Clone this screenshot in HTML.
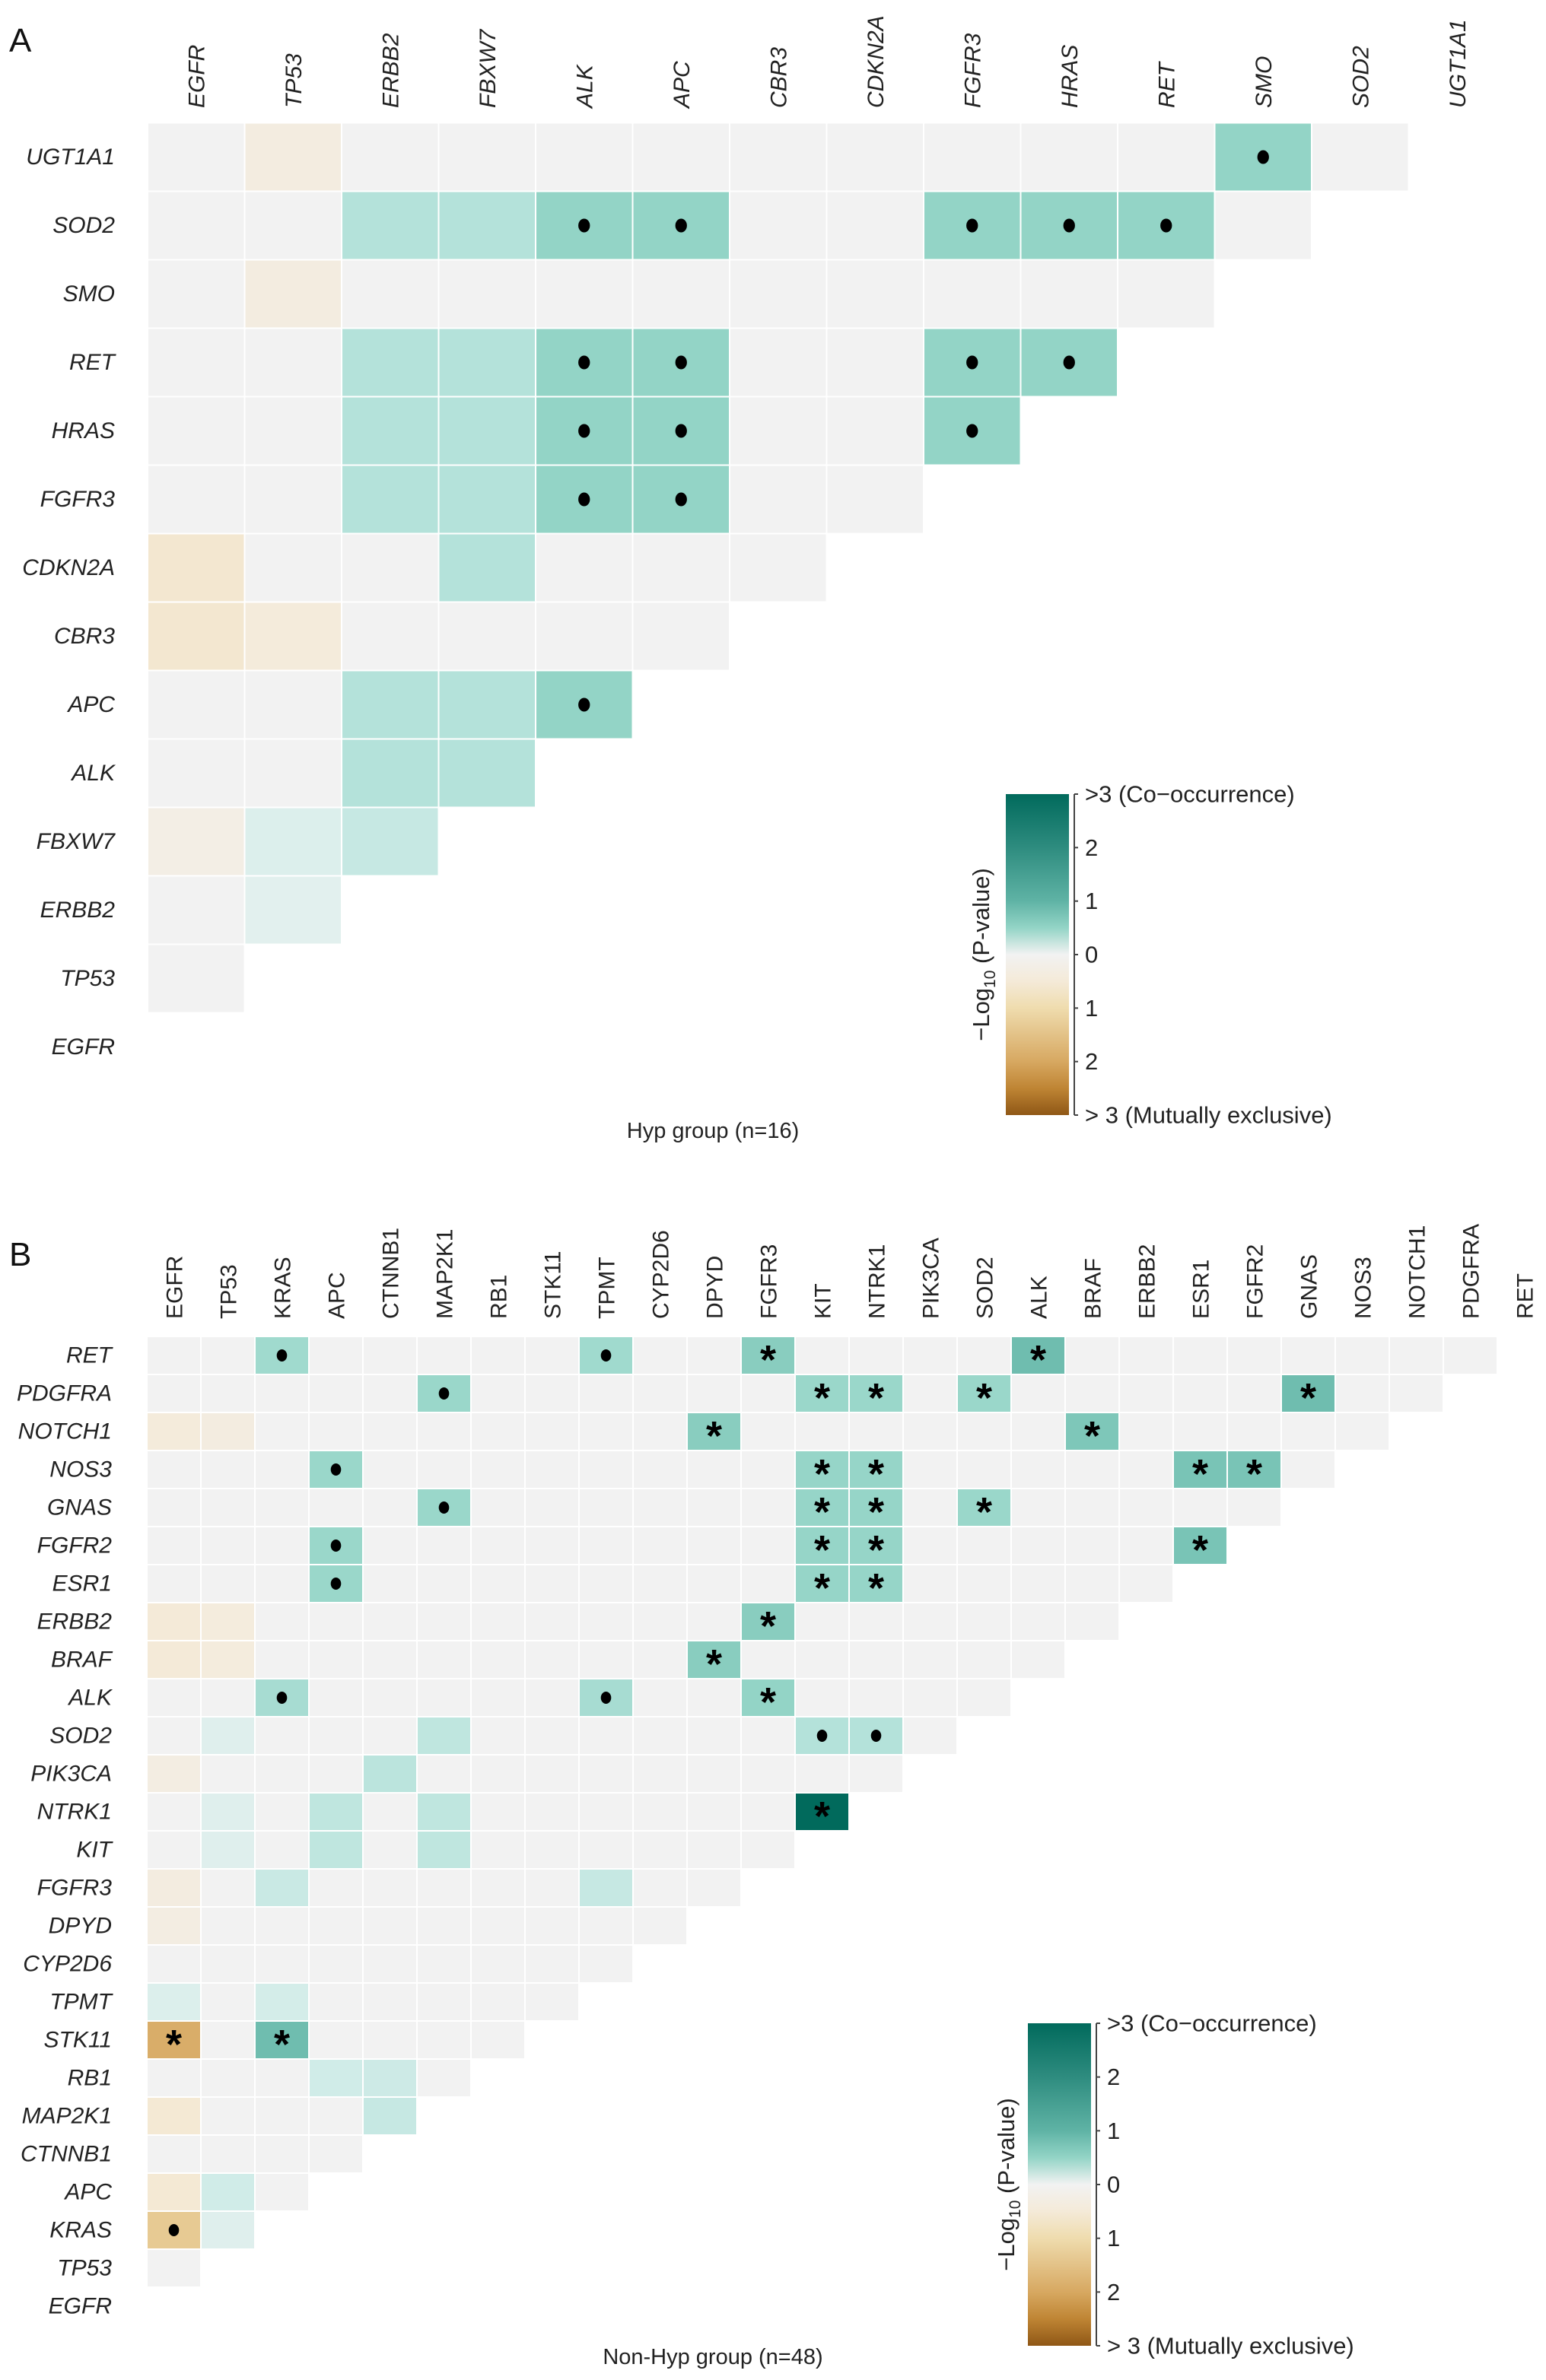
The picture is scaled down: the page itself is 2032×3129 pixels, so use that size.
<!DOCTYPE html>
<html><head><meta charset="utf-8"><style>
html,body{margin:0;padding:0;background:#fff;}
svg{display:block;font-family:"Liberation Sans",Arial,sans-serif;}
</style></head><body>
<svg id="fig" width="2032" height="3129" viewBox="0 0 2032 3129" xmlns="http://www.w3.org/2000/svg">
<defs>
<linearGradient id="cbgrad" x1="0" y1="0" x2="0" y2="1">
<stop offset="0" stop-color="#016a5c"/><stop offset="0.1667" stop-color="#2e8c7f"/><stop offset="0.3333" stop-color="#5fb3a5"/><stop offset="0.4167" stop-color="#93d4c6"/><stop offset="0.5" stop-color="#f2f2f2"/><stop offset="0.5833" stop-color="#f4ead8"/><stop offset="0.6667" stop-color="#efdcae"/><stop offset="0.8333" stop-color="#d7a861"/><stop offset="0.9167" stop-color="#bf8534"/><stop offset="1" stop-color="#8f5716"/>
</linearGradient>
</defs>
<g id="panelA"></g>
<g id="panelB"></g>
</svg>
<script>
// ---------- Panel A data ----------
const aGenes = ["EGFR","TP53","ERBB2","FBXW7","ALK","APC","CBR3","CDKN2A","FGFR3","HRAS","RET","SMO","SOD2","UGT1A1"];
const aCellRow = ["UGT1A1","UGT1A1","SOD2","SOD2","SOD2","SOD2","SOD2","SOD2","SOD2","SMO","RET","RET","RET","RET","RET","RET","HRAS","HRAS","HRAS","HRAS","HRAS","FGFR3","FGFR3","FGFR3","FGFR3","CDKN2A","CDKN2A","CBR3","CBR3","APC","APC","APC","ALK","ALK","FBXW7","FBXW7","FBXW7","ERBB2"];
const aCellCol = ["TP53","SMO","ERBB2","FBXW7","ALK","APC","FGFR3","HRAS","RET","TP53","ERBB2","FBXW7","ALK","APC","FGFR3","HRAS","ERBB2","FBXW7","ALK","APC","FGFR3","ERBB2","FBXW7","ALK","APC","EGFR","FBXW7","EGFR","TP53","ERBB2","FBXW7","ALK","ERBB2","FBXW7","EGFR","TP53","ERBB2","TP53"];
const aCellVal = [-0.35,1.5,1.0,1.0,1.5,1.5,1.5,1.5,1.5,-0.35,1.0,1.0,1.5,1.5,1.5,1.5,1.0,1.0,1.5,1.5,1.5,1.0,1.0,1.5,1.5,-0.6,1.0,-0.6,-0.45,1.0,1.0,1.5,1.0,1.0,-0.25,0.4,0.75,0.3];
const aCellMark = ["","dot","","","dot","dot","dot","dot","dot","","","","dot","dot","dot","dot","","","dot","dot","dot","","","dot","dot","","","","","","","dot","","","","","",""];
// ---------- Panel B data ----------
const bGenes = ["EGFR","TP53","KRAS","APC","CTNNB1","MAP2K1","RB1","STK11","TPMT","CYP2D6","DPYD","FGFR3","KIT","NTRK1","PIK3CA","SOD2","ALK","BRAF","ERBB2","ESR1","FGFR2","GNAS","NOS3","NOTCH1","PDGFRA","RET"];
const bCellRow = ["RET","RET","RET","RET","PDGFRA","PDGFRA","PDGFRA","PDGFRA","PDGFRA","NOTCH1","NOTCH1","NOTCH1","NOTCH1","NOS3","NOS3","NOS3","NOS3","NOS3","GNAS","GNAS","GNAS","GNAS","FGFR2","FGFR2","FGFR2","FGFR2","ESR1","ESR1","ESR1","ERBB2","ERBB2","ERBB2","BRAF","BRAF","BRAF","ALK","ALK","ALK","SOD2","SOD2","SOD2","SOD2","PIK3CA","PIK3CA","NTRK1","NTRK1","NTRK1","NTRK1","KIT","KIT","KIT","FGFR3","FGFR3","FGFR3","DPYD","TPMT","TPMT","STK11","STK11","RB1","RB1","MAP2K1","MAP2K1","APC","APC","KRAS","KRAS"];
const bCellCol = ["KRAS","TPMT","FGFR3","ALK","MAP2K1","KIT","NTRK1","SOD2","GNAS","EGFR","TP53","DPYD","BRAF","APC","KIT","NTRK1","ESR1","FGFR2","MAP2K1","KIT","NTRK1","SOD2","APC","KIT","NTRK1","ESR1","APC","KIT","NTRK1","EGFR","TP53","FGFR3","EGFR","TP53","DPYD","KRAS","TPMT","FGFR3","TP53","MAP2K1","KIT","NTRK1","EGFR","CTNNB1","TP53","APC","MAP2K1","KIT","TP53","APC","MAP2K1","EGFR","KRAS","TPMT","EGFR","EGFR","KRAS","EGFR","KRAS","APC","CTNNB1","EGFR","CTNNB1","EGFR","TP53","EGFR","TP53"];
const bCellVal = [1.3,1.3,1.6,1.85,1.4,1.4,1.4,1.4,1.85,-0.45,-0.35,1.6,1.7,1.4,1.45,1.45,1.75,1.75,1.4,1.45,1.45,1.4,1.4,1.45,1.45,1.75,1.4,1.45,1.45,-0.5,-0.4,1.6,-0.5,-0.4,1.6,1.2,1.2,1.5,0.35,0.85,1.0,1.0,-0.3,0.9,0.35,0.85,0.85,3.0,0.35,0.85,0.85,-0.35,0.7,0.75,-0.3,0.4,0.55,-1.9,1.85,0.6,0.65,-0.55,0.75,-0.55,0.6,-1.35,0.35];
const bCellMark = ["dot","dot","star","star","dot","star","star","star","star","","","star","star","dot","star","star","star","star","dot","star","star","star","dot","star","star","star","dot","star","star","","","star","","","star","dot","dot","star","","","dot","dot","","","","","","star","","","","","","","","","","star","star","","","","","","","dot",""];
// ---------- Colorbar ticks ----------
const cbTickVals = [3,2,1,0,-1,-2,-3];
const cbTickLabels = [">3 (Co\u2212occurrence)","2","1","0","1","2","> 3 (Mutually exclusive)"];

const NS = "http://www.w3.org/2000/svg";
function mk(tag, attrs, parent){const e=document.createElementNS(NS,tag);for(const k in attrs)e.setAttribute(k,attrs[k]);parent.appendChild(e);return e;}
const stops=[[-3,[143,87,22]],[-2.5,[191,133,52]],[-2,[215,168,97]],[-1,[239,220,174]],[-0.5,[244,234,216]],[0,[242,242,242]],[0.5,[215,238,235]],[1,[180,226,218]],[1.5,[147,212,198]],[2,[95,179,165]],[2.5,[46,140,127]],[3,[1,106,92]]];
function color(v){v=Math.max(-3,Math.min(3,v));for(let i=0;i<stops.length-1;i++){const a=stops[i],b=stops[i+1];if(v>=a[0]&&v<=b[0]){const t=(v-a[0])/(b[0]-a[0]);const c=a[1].map((x,k)=>Math.round(x+(b[1][k]-x)*t));return "rgb("+c.join(",")+")";}}return "#f2f2f2";}

function drawPanel(g, genes, rows, cols, vals, marks, geo){
  const n=genes.length;
  const xScale=i=>geo.x0+i*geo.cw;
  const yScale=r=>geo.y0+r*geo.rh;
  genes.forEach((gn,i)=>{
    const cx=xScale(i)+geo.cw/2+geo.fs*0.36;
    const t=mk("text",{x:cx,y:geo.colLabY,transform:"rotate(-90 "+cx+" "+geo.colLabY+")","font-size":geo.fs,fill:"#222","font-style":geo.colItalic?"italic":"normal"},g);
    
    
    t.textContent=gn;
  });
  for(let r=0;r<n;r++){
    const gi=n-1-r;
    const t=mk("text",{x:geo.rowLabX,y:yScale(r)+geo.rh/2,"text-anchor":"end","dominant-baseline":"central","font-size":geo.fs,fill:"#222","font-style":"italic"},g);
    
    
    t.textContent=genes[gi];
    for(let c=0;c<gi;c++){
      let v=0,m="";
      for(let k=0;k<rows.length;k++){if(rows[k]===genes[gi]&&cols[k]===genes[c]){v=vals[k];m=marks[k];}}
      const rc=mk("rect",{x:xScale(c)+1,y:yScale(r)+1,width:geo.cw-2,height:geo.rh-2,fill:color(v)},g);
      
      
      const cx=xScale(c)+geo.cw/2, cy=yScale(r)+geo.rh/2;
      if(m==="dot"){
        const d=mk("ellipse",{cx:cx,cy:cy,rx:geo.dot*0.85,ry:geo.dot,fill:"#000"},g);
        
        
      } else if(m==="star"){
        const s=mk("text",{x:cx,y:cy+geo.star*0.44,"text-anchor":"middle","font-size":geo.star,"font-weight":"bold",fill:"#000"},g);
        
        
        s.textContent="*";
      }
    }
  }
}

function drawColorbar(g, cb){
  const bar=mk("rect",{x:cb.x,y:cb.y0,width:cb.w,height:cb.y1-cb.y0,fill:"url(#cbgrad)"},g);
  
  
  const ax=cb.x+cb.w+7;
  const yv=v=>cb.y0+(3-v)/6*(cb.y1-cb.y0);
  const ln=mk("line",{x1:ax,y1:cb.y0,x2:ax,y2:cb.y1,stroke:"#444","stroke-width":2},g);
  
  
  cbTickVals.forEach((v,i)=>{
    const y=yv(v);
    mk("line",{x1:ax,y1:y,x2:ax+5,y2:y,stroke:"#444","stroke-width":2},g);
    const t=mk("text",{x:ax+14,y:y,"dominant-baseline":"central","font-size":31,fill:"#222"},g);
    
    
    t.textContent=cbTickLabels[i];
  });
  const cy=(cb.y0+cb.y1)/2;
  const tt=mk("text",{x:cb.titleX,y:cy,transform:"rotate(-90 "+cb.titleX+" "+cy+")","text-anchor":"middle","font-size":31,fill:"#222"},g);
  
  
  tt.innerHTML='\u2212Log<tspan font-size="21" dy="8">10</tspan><tspan dy="-8"> (P-value)</tspan>';
}

function panelLetter(g,txt,y){
  const t=mk("text",{x:12,y:y,"font-size":44,fill:"#111"},g);
  
  
  t.textContent=txt;
}
function caption(g,txt,y){
  const t=mk("text",{x:937,y:y,"text-anchor":"middle","dominant-baseline":"central","font-size":29,fill:"#222"},g);
  
  
  t.textContent=txt;
}

const gA=document.getElementById("panelA"), gB=document.getElementById("panelB");
panelLetter(gA,"A",68);
drawPanel(gA,aGenes,aCellRow,aCellCol,aCellVal,aCellMark,{x0:194,y0:161.5,cw:127.5,rh:90,rowLabX:151,colLabY:142,fs:30,colItalic:true,dot:9,star:54});
drawColorbar(gA,{x:1322,w:83,y0:1044,y1:1466,titleX:1300});
caption(gA,"Hyp group (n=16)",1487);

panelLetter(gB,"B",1664);
drawPanel(gB,bGenes,bCellRow,bCellCol,bCellVal,bCellMark,{x0:193,y0:1757,cw:71,rh:50,rowLabX:147,colLabY:1734,fs:30,colItalic:false,dot:8,star:54});
drawColorbar(gB,{x:1351,w:83,y0:2660,y1:3084,titleX:1333});
caption(gB,"Non-Hyp group (n=48)",3099);
</script>
</body></html>
